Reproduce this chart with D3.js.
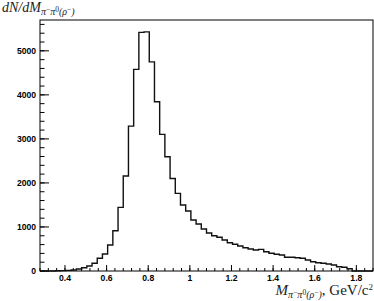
<!DOCTYPE html>
<html>
<head>
<meta charset="utf-8">
<script src="https://cdn.jsdelivr.net/npm/d3@7"></script>
<style>
  body { margin: 0; background: #fff; }
  svg { display: block; }
</style>
</head>
<body>
<div id="chart"></div>
<script>
// histogram definition: 64 bins from 0.28 to 1.88
var nBins = 64, xLow = 0.28, xHigh = 1.88;
var counts = [0, 0, 0, 4, 8, 14, 23, 45, 75, 113,
  175, 288, 386, 590, 915, 1445, 2156, 3291, 4578, 5418,
  5431, 4750, 3843, 3102, 2595, 2100, 1763, 1498, 1362, 1157,
  1067, 953, 862, 801, 765, 704, 643, 606, 567, 529,
  499, 477, 492, 438, 402, 379, 363, 311, 311, 302,
  288, 250, 211, 188, 175, 159, 136, 98, 84, 52,
  0, 0, 0, 0];
var yMax = 5700;
var xTickValues = [0.4, 0.6, 0.8, 1.0, 1.2, 1.4, 1.6, 1.8];
var yTickValues = [0, 1000, 2000, 3000, 4000, 5000];

var width = 374, height = 301,
    margin = {top: 20, right: 1, bottom: 30, left: 40};

var svg = d3.select("#chart").append("svg")
    .attr("width", width)
    .attr("height", height);

var x = d3.scaleLinear().domain([xLow, xHigh]).range([margin.left, width - margin.right]);
var y = d3.scaleLinear().domain([0, yMax]).range([height - margin.bottom, margin.top]);

var binW = (xHigh - xLow) / nBins;
var pts = counts.map(function(c, i) { return [xLow + i * binW, c]; });
pts.push([xHigh, counts[nBins - 1]]);

// minor ticks
var xMinor = d3.range(0, 41).map(function(i) { return +(xLow + i * 0.04).toFixed(2); });
var yMinor = d3.range(0, 29).map(function(i) { return i * 200; });

var axisColor = "#000";
var g = svg.append("g");

g.selectAll(".xminor").data(xMinor).enter().append("line")
    .attr("x1", function(d) { return x(d); }).attr("x2", function(d) { return x(d); })
    .attr("y1", y(0)).attr("y2", y(0) - 3)
    .attr("stroke", axisColor).attr("stroke-width", 1);
g.selectAll(".xmajor").data(xTickValues).enter().append("line")
    .attr("x1", function(d) { return x(d); }).attr("x2", function(d) { return x(d); })
    .attr("y1", y(0)).attr("y2", y(0) - 6)
    .attr("stroke", axisColor).attr("stroke-width", 1);
g.selectAll(".yminor").data(yMinor).enter().append("line")
    .attr("x1", x(xLow)).attr("x2", x(xLow) + 4.5)
    .attr("y1", function(d) { return y(d); }).attr("y2", function(d) { return y(d); })
    .attr("stroke", axisColor).attr("stroke-width", 1);
g.selectAll(".ymajor").data(yTickValues).enter().append("line")
    .attr("x1", x(xLow)).attr("x2", x(xLow) + 9)
    .attr("y1", function(d) { return y(d); }).attr("y2", function(d) { return y(d); })
    .attr("stroke", axisColor).attr("stroke-width", 1);

// frame
svg.append("rect")
    .attr("x", margin.left).attr("y", margin.top)
    .attr("width", width - margin.right - margin.left)
    .attr("height", height - margin.bottom - margin.top)
    .attr("fill", "none").attr("stroke", "#000").attr("stroke-width", 1);

// tick labels
svg.selectAll(".xlab").data(xTickValues).enter().append("text")
    .attr("x", function(d) { return x(d); })
    .attr("y", y(0) + 10)
    .attr("text-anchor", "middle")
    .style("font-family", "Liberation Sans, Arial, sans-serif")
    .style("font-size", "8.6px").style("font-weight", "bold")
    .text(function(d) { return String(+d.toFixed(1)); });

svg.selectAll(".ylab").data(yTickValues).enter().append("text")
    .attr("x", margin.left - 4)
    .attr("y", function(d) { return y(d) + 3; })
    .attr("text-anchor", "end")
    .style("font-family", "Liberation Sans, Arial, sans-serif")
    .style("font-size", "8.6px").style("font-weight", "bold")
    .text(function(d) { return d; });

// histogram outline
var line = d3.line()
    .x(function(d) { return x(d[0]); })
    .y(function(d) { return y(d[1]); })
    .curve(d3.curveStepAfter);

svg.append("path")
    .datum(pts)
    .attr("d", line)
    .attr("fill", "none")
    .attr("stroke", "#111")
    .attr("stroke-width", 1.4);

// axis titles: M with subscript pi- pi0 (rho-)
var serif = "Liberation Serif, Times New Roman, serif";
function subscript(t, big, small) {
  t.append("tspan").style("font-size", big).style("font-style", "italic").attr("dy", 3).text("π");
  t.append("tspan").style("font-size", small).attr("dy", -3.5).text("−");
  t.append("tspan").style("font-size", big).style("font-style", "italic").attr("dy", 3.5).text("π");
  t.append("tspan").style("font-size", small).attr("dy", -3.5).text("0");
  t.append("tspan").style("font-size", big).style("font-style", "italic").attr("dy", 3.5).text("(ρ");
  t.append("tspan").style("font-size", small).attr("dy", -3.5).text("−");
  t.append("tspan").style("font-size", big).style("font-style", "italic").attr("dy", 3.5).text(")");
}

var yt = svg.append("text").attr("x", 2).attr("y", 12)
    .style("font-family", serif).style("font-size", "14px").attr("fill", "#222");
yt.append("tspan").style("font-style", "italic").text("dN/dM");
subscript(yt, "10px", "7.5px");

var xt = svg.append("text").attr("x", width - 1).attr("y", 295)
    .attr("text-anchor", "end")
    .style("font-family", serif).style("font-size", "15px").attr("fill", "#222");
xt.append("tspan").style("font-style", "italic").text("M");
subscript(xt, "10px", "7.5px");
xt.append("tspan").attr("dy", -3).text(", GeV/c");
xt.append("tspan").style("font-size", "9px").attr("dy", -5).text("2");
</script>
</body>
</html>
